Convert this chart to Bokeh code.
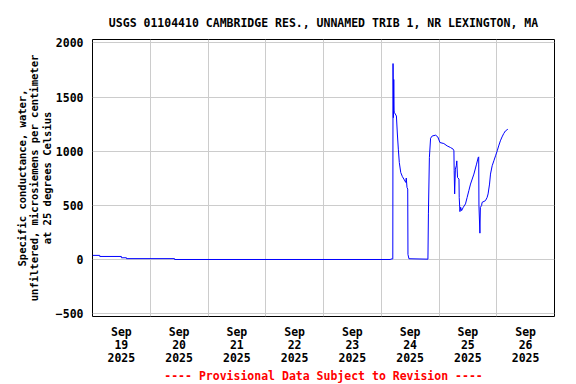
from bokeh.plotting import figure
from bokeh.models import FixedTicker, Range1d, Title
from bokeh.embed import file_html
from bokeh.resources import INLINE

# Hours since 2025-09-19 00:00 and specific conductance values
hours = [0, 3.0, 3.0, 12.0, 12.0, 14.1, 14.1, 34.1, 34.1, 123.9, 123.9, 124.8,
         124.9, 125.05, 125.2, 125.35, 125.5, 126.3, 126.7, 127.1, 127.5, 128.1,
         128.8, 129.4, 130.2, 130.4, 130.7, 131.0, 131.1, 131.5, 139.4, 139.6,
         140.0, 140.5, 141.2, 142.6, 143.5, 144.4, 146.0, 147.4, 148.8, 149.9,
         150.2, 150.3, 150.5, 150.8, 151.2, 151.4, 151.7, 152.3, 152.4, 152.7,
         153.0, 153.4, 154.1, 155.0, 155.7, 156.4, 157.1, 158.5, 159.6, 160.3,
         160.5, 160.6, 161.0, 161.2, 161.7, 161.9, 163.3, 164.0, 164.4, 165.0,
         165.4, 166.1, 166.8, 167.5, 168.2, 168.8, 169.5, 170.2, 170.9, 171.6, 172.6]
values = [40, 40, 30, 30, 18, 18, 10, 10, 2, 2, 6, 8,
          1810, 1311, 1663, 1372, 1357, 1326, 1160, 1020, 897, 805,
          766, 744, 713, 754, 667, 652, 49, 9, 5, 423,
          943, 1121, 1142, 1149, 1133, 1081, 1072, 1050, 1035, 1020,
          1005, 821, 607, 836, 867, 912, 759, 744, 575, 444,
          484, 453, 484, 515, 575, 637, 698, 790, 882, 943,
          949, 499, 245, 484, 499, 529, 545, 575, 607, 698,
          790, 867, 913, 959, 1005, 1050, 1097, 1133, 1164, 1188, 1204]

day_labels = ["Sep\n19\n2025", "Sep\n20\n2025", "Sep\n21\n2025", "Sep\n22\n2025",
              "Sep\n23\n2025", "Sep\n24\n2025", "Sep\n25\n2025", "Sep\n26\n2025"]
y_ticks = [-500, 0, 500, 1000, 1500, 2000]

title_text = "USGS 01104410 CAMBRIDGE RES., UNNAMED TRIB 1, NR LEXINGTON, MA"
ylabel_text = ("Specific conductance, water,\n"
               "unfiltered, microsiemens per centimeter\n"
               "at 25 degrees Celsius")
footer_text = "---- Provisional Data Subject to Revision ----"

FONT = "DejaVu Sans Mono"
FS = "11.5px"

days = [h / 24.0 for h in hours]

p = figure(frame_width=462, frame_height=277, output_backend="svg",
           toolbar_location=None,
           x_range=Range1d(0, 8), y_range=Range1d(-524, 2032),
           min_border_left=92, min_border_right=20, min_border_top=39,
           min_border_bottom=67)
p.background_fill_color = "white"
p.border_fill_color = "white"
p.outline_line_color = "black"
p.outline_line_width = 1

p.line(days, values, line_color="#0000FF", line_width=1)

label_ticks = [i + 0.5 for i in range(len(day_labels))]
p.xaxis.ticker = FixedTicker(ticks=label_ticks)
p.xaxis.major_label_overrides = {t: lab for t, lab in zip(label_ticks, day_labels)}
p.xgrid.ticker = FixedTicker(ticks=list(range(1, 8)))
p.yaxis.ticker = FixedTicker(ticks=y_ticks)

for ax in (p.xaxis[0], p.yaxis[0]):
    ax.axis_line_color = None
    ax.major_tick_line_color = None
    ax.minor_tick_line_color = None
    ax.major_tick_in = 0
    ax.major_tick_out = 0
    ax.major_label_text_font = FONT
    ax.major_label_text_font_style = "bold"
    ax.major_label_text_font_size = FS
    ax.major_label_text_color = "black"
p.xaxis.major_label_standoff = 8
p.xaxis.major_label_text_line_height = 0.95
p.yaxis.major_label_standoff = 9

p.yaxis.axis_label = ylabel_text
p.yaxis.axis_label_standoff = 0
p.yaxis.axis_label_text_font = FONT
p.yaxis.axis_label_text_font_style = "bold"
p.yaxis.axis_label_text_font_size = "10.5px"
p.yaxis.axis_label_text_color = "black"
p.yaxis.axis_label_text_line_height = 1.05
p.yaxis.axis_label_text_align = "center"

for g in (p.xgrid[0], p.ygrid[0]):
    g.grid_line_color = "#CCCCCC"
    g.grid_line_width = 1

p.title.text = title_text
p.title.align = "center"
p.title.text_font = FONT
p.title.text_font_style = "bold"
p.title.text_font_size = FS
p.title.text_color = "black"
p.title.standoff = 19

p.add_layout(Title(text=footer_text, align="center", text_font=FONT,
                   text_font_style="bold", text_font_size=FS,
                   text_color="#FF0000", standoff=-3), "below")

open("out.html", "w").write(file_html(p, INLINE))
